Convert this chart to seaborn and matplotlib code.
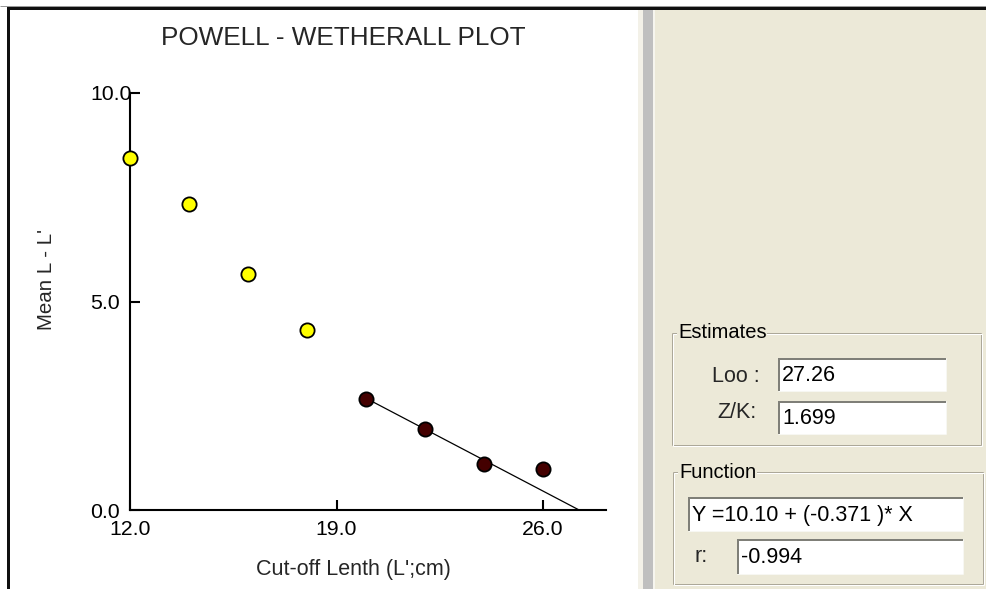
import matplotlib
matplotlib.use("Agg")
import matplotlib.pyplot as plt
import numpy as np
import seaborn as sns
from matplotlib.patches import Rectangle

# Powell-Wetherall points: cut-off length vs mean(L) - L'
cutoff_excluded = [12.0, 14.0, 16.0, 18.0]
mean_diff_excluded = [8.45, 7.34, 5.65, 4.31]
cutoff_used = [20.0, 22.0, 24.0, 26.0]
mean_diff_used = [2.66, 1.94, 1.11, 0.98]

# Regression results
intercept = 10.10
slope = -0.371
l_inf = "27.26"
z_over_k = "1.699"
r_value = "-0.994"

x_ticks = [12.0, 19.0, 26.0]
y_ticks = [0.0, 5.0, 10.0]

sns.set_style("white")
plt.rcParams["font.family"] = ["Liberation Sans", "DejaVu Sans"]

W, H = 987, 589
PX = 0.72  # points per pixel at 100 dpi
fig = plt.figure(figsize=(W / 100, H / 100), dpi=100)
fig.patch.set_facecolor("white")

# Background layer in pixel coordinates (origin top-left)
bg = fig.add_axes([0, 0, 1, 1], zorder=0)
bg.set_xlim(0, W)
bg.set_ylim(H, 0)
bg.axis("off")

BEIGE = "#ece9d8"


def rect(x0, y0, x1, y1, color):
    bg.add_patch(Rectangle((x0, y0), x1 - x0, y1 - y0, facecolor=color,
                           edgecolor="none", linewidth=0))


def hline(x0, x1, y, color, px=1):
    bg.plot([x0, x1], [y, y], color=color, linewidth=px * PX,
            solid_capstyle="butt")


def vline(x, y0, y1, color, px=1):
    bg.plot([x, x], [y0, y1], color=color, linewidth=px * PX,
            solid_capstyle="butt")


# window frame and panels
rect(10, 10, 638, H, "white")
rect(638, 10, 643, H, "#f3f1e8")
rect(643, 10, 653, H, "#bfbfbf")
rect(653, 10, 655, H, "#f6f5ee")
rect(655, 10, W, H, BEIGE)
hline(0, W, 5.5, "#9a9a9a", 1)
rect(7, 7, W, 10, "#101010")
rect(7, 7, 10, H, "#101010")


def group_box(x0, y0, x1, y1, title):
    for off, col in ((0, "#aca899"), (1, "white")):
        hline(x0 + off, x1 + off, y0 + off, col)
        hline(x0 + off, x1 + off, y1 + off, col)
        vline(x0 + off, y0 + off, y1 + off, col)
        vline(x1 + off, y0 + off, y1 + off, col)
    bg.text(x0 + 6, y0, title, ha="left", va="center", fontsize=14.5,
            color="black",
            bbox=dict(facecolor=BEIGE, edgecolor="none", pad=0.5))


def text_box(x0, y0, x1, y1, value):
    rect(x0, y0, x1, y1, "white")
    hline(x0, x1, y0 + 1, "#7f7f78", 2)
    vline(x0 + 1, y0, y1, "#7f7f78", 2)
    hline(x0, x1, y1, "#f7f7f2", 1)
    vline(x1, y0, y1, "#f7f7f2", 1)
    bg.text(x0 + 4, (y0 + y1) / 2 + 1, value, ha="left", va="center",
            fontsize=15.5, color="black")


group_box(672, 333, 981, 445, "Estimates")
bg.text(760, 376, "Loo :", ha="right", va="center", fontsize=15.5)
text_box(778, 358, 946, 391, l_inf)
bg.text(757, 413, "Z/K:", ha="right", va="center", fontsize=15.5)
text_box(778, 401, 946, 434, z_over_k)

group_box(673, 472, 983, 584, "Function")
function_label = f"Y ={intercept:.2f} + ({slope:.3f} )* X"
text_box(688, 497, 963, 531, function_label)
bg.text(708, 557, "r:", ha="right", va="center", fontsize=15.5)
text_box(737, 539, 963, 574, r_value)

# Main plot
x0_px, x1_px, y0_px, y1_px = 130, 606, 510, 93
ax = fig.add_axes([x0_px / W, (H - y0_px) / H, (x1_px - x0_px) / W,
                   (y0_px - y1_px) / H], zorder=2)
ax.set_facecolor("none")
px_per_unit = (543 - 130) / 14.0
ax.set_xlim(12.0, 12.0 + (x1_px - x0_px) / px_per_unit)
ax.set_ylim(0, 10)

fit_x = np.array([cutoff_used[0], -intercept / slope])
fit_y = intercept + slope * fit_x
sns.lineplot(x=fit_x, y=fit_y, ax=ax, color="black", linewidth=0.9,
             zorder=2, clip_on=False)

sns.scatterplot(x=cutoff_excluded, y=mean_diff_excluded, ax=ax,
                color="#ffff00", edgecolor="black", linewidth=1.3, s=105,
                zorder=4, clip_on=False)
sns.scatterplot(x=cutoff_used, y=mean_diff_used, ax=ax,
                color="#440000", edgecolor="black", linewidth=1.3, s=105,
                zorder=4, clip_on=False)

for side in ("top", "right"):
    ax.spines[side].set_visible(False)
for side in ("left", "bottom"):
    ax.spines[side].set_color("black")
    ax.spines[side].set_linewidth(1.5)

ax.set_xticks(x_ticks)
ax.set_xticklabels([f"{v:.1f}" for v in x_ticks])
ax.set_yticks(y_ticks)
ax.set_yticklabels([f"{v:.1f}" for v in y_ticks])
ax.tick_params(axis="both", direction="in", length=7.5, width=1.5,
               colors="black", labelsize=15.3, bottom=True, left=True)
ax.tick_params(axis="x", pad=7)
ax.tick_params(axis="y", pad=40 * PX)
for lab in ax.get_yticklabels():
    lab.set_horizontalalignment("left")

ax.set_xlabel("Cut-off Lenth (L';cm)", fontsize=15.5, va="center")
ax.xaxis.set_label_coords((353 - x0_px) / (x1_px - x0_px),
                          (y0_px - 570) / (y0_px - y1_px))
ax.set_ylabel("Mean L - L'", fontsize=14.8, va="center")
ax.yaxis.set_label_coords((47 - x0_px) / (x1_px - x0_px),
                          (y0_px - 280) / (y0_px - y1_px))
ax.set_title("POWELL - WETHERALL PLOT", fontsize=18.8, pad=0, va="center",
             x=(343 - x0_px) / (x1_px - x0_px),
             y=(y0_px - 38) / (y0_px - y1_px))

fig.savefig("out.png", dpi=100)
